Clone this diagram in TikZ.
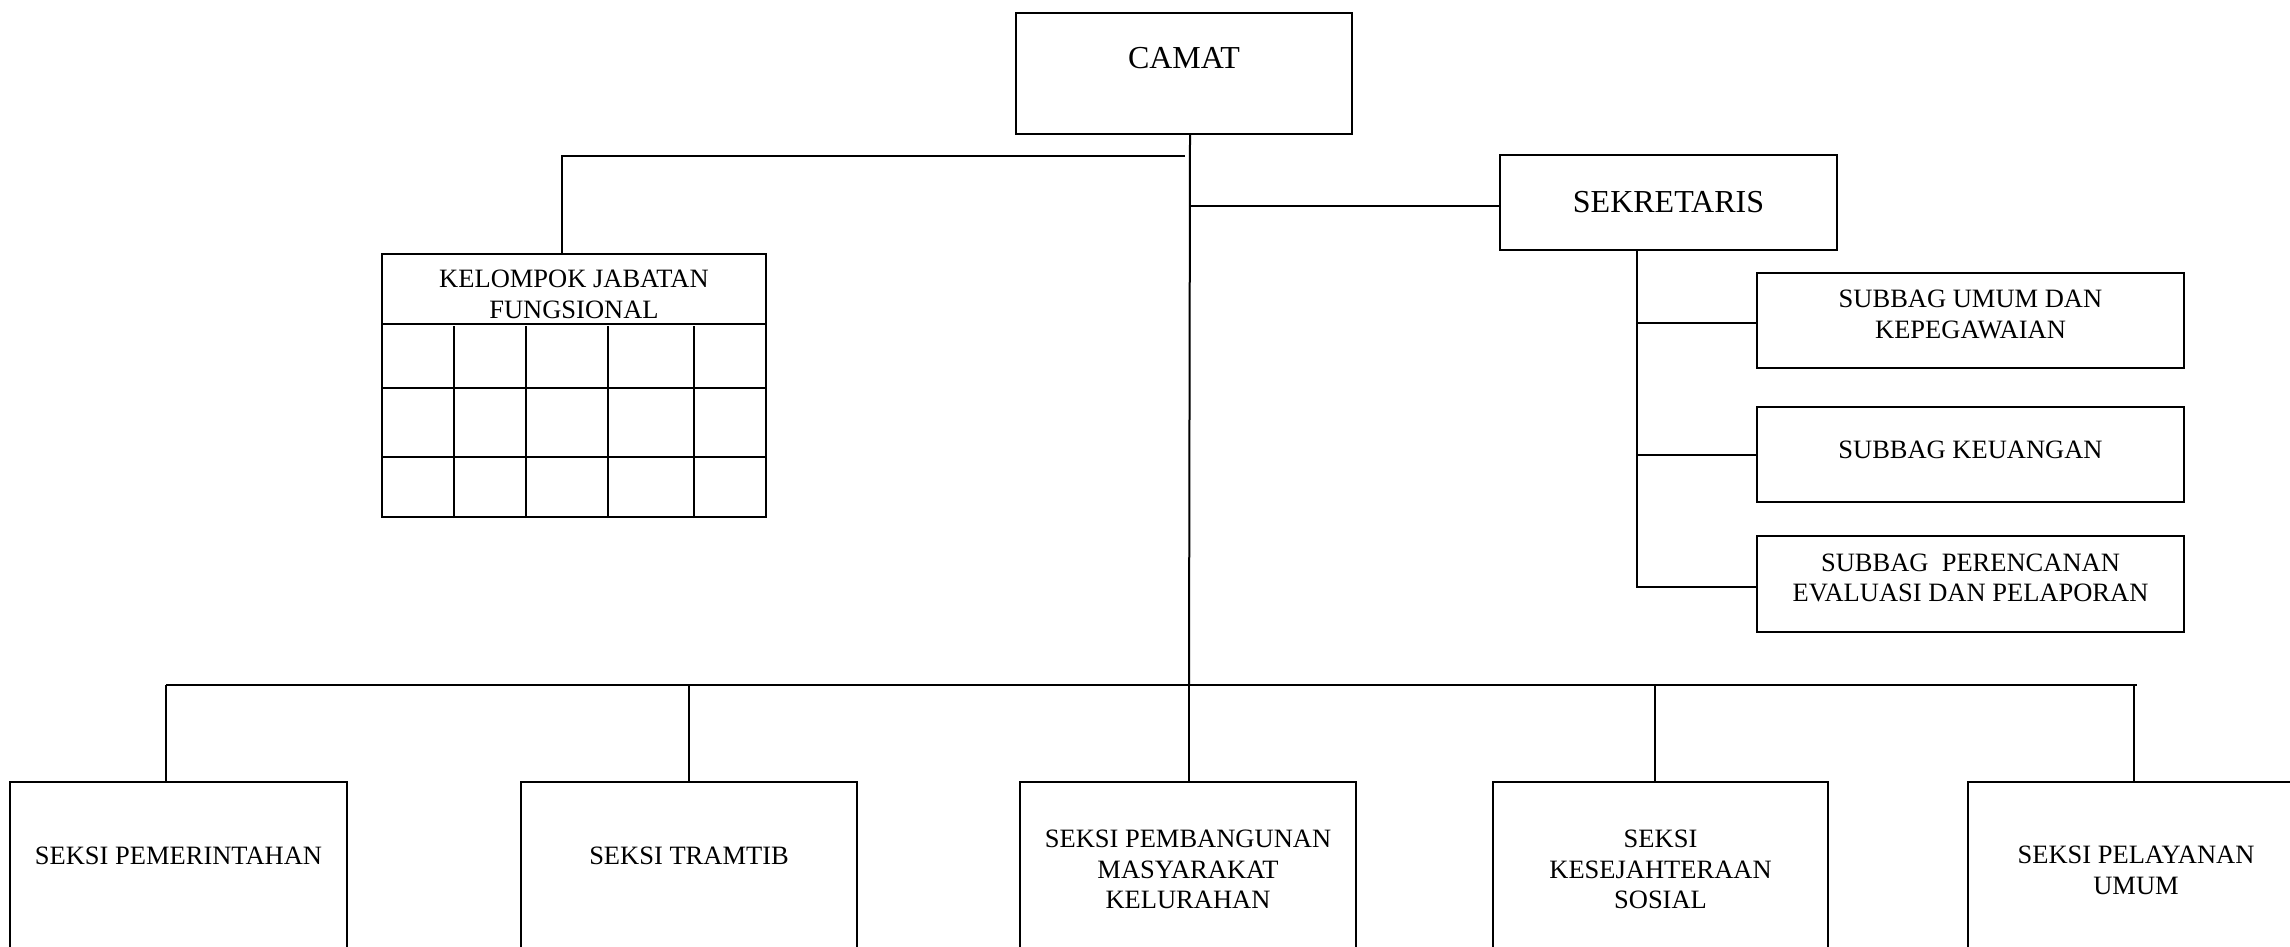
\documentclass[tikz,border=0pt]{standalone}
\usepackage{fontspec}
\setmainfont{Liberation Serif}
\begin{document}
\begin{tikzpicture}[x=1pt,y=-1pt,
  line width=2pt,
  box/.style={draw, line width=2pt, inner sep=0pt, anchor=north west},
  big/.style={font=\fontsize{32}{38}\selectfont, inner sep=0pt, align=center},
  small/.style={font=\fontsize{26.5}{30.7}\selectfont, inner sep=0pt, align=center},
  conn/.style={line width=2pt}]
\useasboundingbox (0,0) rectangle (2290,946);
\clip (0,0) rectangle (2290,946);
% boxes
\node[box, minimum width=336pt, minimum height=121pt] (camat) at (1015,12) {};
\node[box, minimum width=337pt, minimum height=95pt] (sek) at (1499,154) {};
\node[box, minimum width=384pt, minimum height=263pt] (kjf) at (381,253) {};
\node[box, minimum width=427pt, minimum height=95pt] (sb1) at (1756,272) {};
\node[box, minimum width=427pt, minimum height=95pt] (sb2) at (1756,406) {};
\node[box, minimum width=427pt, minimum height=96pt] (sb3) at (1756,535) {};
\node[box, minimum width=337pt, minimum height=300pt] (b1) at (9,781) {};
\node[box, minimum width=336pt, minimum height=300pt] (b2) at (520,781) {};
\node[box, minimum width=336pt, minimum height=300pt] (b3) at (1019,781) {};
\node[box, minimum width=335pt, minimum height=300pt] (b4) at (1492,781) {};
\node[box, minimum width=336pt, minimum height=300pt] (b5) at (1967,781) {};
% texts
\node[big] (tcamat) at ([yshift=-46pt]camat.north) {CAMAT};
\node[big] (tsek) at (sek.center) {SEKRETARIS};
\node[small] (tkjf) at ([yshift=-41pt]kjf.north) {KELOMPOK JABATAN\\FUNGSIONAL};
\node[small] (tsb1) at ([yshift=6pt]sb1.center) {SUBBAG UMUM DAN\\KEPEGAWAIAN};
\node[small] (tsb2) at ([yshift=5pt]sb2.center) {SUBBAG KEUANGAN};
\node[small] (tsb3) at ([yshift=6pt]sb3.center) {SUBBAG\ \ PERENCANAN\\EVALUASI DAN PELAPORAN};
\node[small] (tb1) at ([yshift=-74.5pt]b1.north) {SEKSI PEMERINTAHAN};
\node[small] (tb2) at ([yshift=-74.5pt]b2.north) {SEKSI TRAMTIB};
\node[small] (tb3) at ([yshift=-88.5pt]b3.north) {SEKSI PEMBANGUNAN\\MASYARAKAT\\KELURAHAN};
\node[small] (tb4) at ([yshift=-88.5pt]b4.north) {SEKSI\\KESEJAHTERAAN\\SOSIAL};
\node[small] (tb5) at ([yshift=-89pt]b5.north) {SEKSI PELAYANAN\\UMUM};
% KJF grid
\draw ([yshift=-71pt]kjf.north west) -- ([yshift=-71pt]kjf.north east);
\draw ([yshift=-135pt]kjf.north west) -- ([yshift=-135pt]kjf.north east);
\draw ([yshift=-204pt]kjf.north west) -- ([yshift=-204pt]kjf.north east);
\foreach \dx in {73,145,227,313}
  \draw ([xshift=\dx pt]kjf.south west) -- ++(0pt,192pt);
% connectors
\coordinate (cv) at ([xshift=6pt]camat.south);
\coordinate (busc) at (1189,685);
\draw[conn] (cv) -- (busc);
\coordinate (lend) at (1185,156);
\coordinate (kjftop) at ([xshift=-12pt]kjf.north);
\draw[conn] (lend) -| (kjftop);
\coordinate (sekin) at ([yshift=-3pt]sek.west);
\draw[conn] (sekin -| cv) -- (sekin);
\coordinate (sv) at ([xshift=-31.5pt]sek.south);
\coordinate (sb1in) at ([yshift=-2pt]sb1.west);
\coordinate (sb3in) at ([yshift=-3pt]sb3.west);
\draw[conn] (sv) |- (sb3in);
\draw[conn] (sb1in -| sv) -- (sb1in);
\draw[conn] (sb2.west -| sv) -- (sb2.west);
\coordinate (busl) at (166,685);
\coordinate (busr) at (2137,685);
\coordinate (d2) at (689,685);
\coordinate (d4) at (1654.5,685);
\coordinate (d5) at (2134,685);
\draw[conn] (busl) -- (busr);
\draw[conn] (busl) -- (busl |- b1.north);
\draw[conn] (d2) -- (d2 |- b2.north);
\draw[conn] (busc) -- (busc |- b3.north);
\draw[conn] (d4) -- (d4 |- b4.north);
\draw[conn] (d5) -- (d5 |- b5.north);
\end{tikzpicture}
\end{document}
